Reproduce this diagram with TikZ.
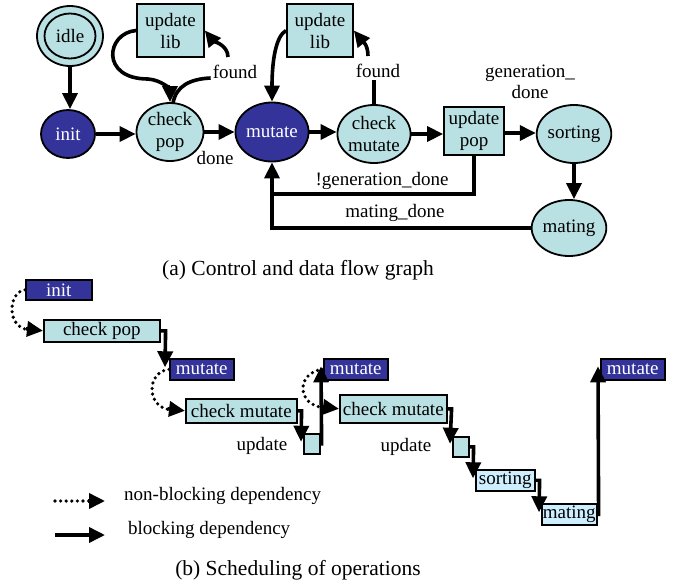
\documentclass[tikz,border=0pt]{standalone}
\usepackage{fontspec}
\setmainfont{Liberation Serif}
\usetikzlibrary{shapes.geometric,arrows.meta,calc}
\definecolor{lc}{HTML}{B9E0E3}
\definecolor{dk}{HTML}{333399}
\definecolor{sk}{HTML}{CCEEFF}
\begin{document}
\begin{tikzpicture}[x=1pt,y=-1pt,
 lbl/.style={font=\fontsize{19}{22}\selectfont},
 captxt/.style={font=\fontsize{21.5}{24}\selectfont},
 tag/.style={lbl,inner sep=2pt},
 ell/.style={ellipse,draw,line width=1.8pt,inner sep=0pt,fill=lc,lbl,align=center},
 dkell/.style={ell,fill=dk,text=white},
 rbox/.style={rectangle,draw,line width=1.8pt,fill=lc,inner sep=0pt,lbl,align=center},
 sbox/.style={rectangle,draw,line width=1.6pt,fill=lc,inner sep=0pt,lbl,anchor=north west},
 dbox/.style={sbox,fill=dk,text=white},
 kbox/.style={sbox,fill=sk},
 con/.style={line width=3.6pt},
 arr/.style={con,-{Triangle[length=16pt,width=15pt]}},
 dotln/.style={line width=3.6pt,dash pattern=on 0pt off 5.6pt,line cap=round},
]
\useasboundingbox (0,0) rectangle (681,584);

% ---------- (a) ----------
\node[ell,minimum width=66pt,minimum height=60pt] (idle) at (70,36) {};
\node[ell,minimum width=51pt,minimum height=45pt] (idlein) at (70,36) {idle};
\node[dkell,minimum width=54pt,minimum height=48pt] (init) at (68,134) {init};
\node[ell,minimum width=67pt,minimum height=58pt] (cp) at (170,132) {check\\pop};
\node[dkell,minimum width=68pt,minimum height=59pt] (mut) at (272,132) {mutate};
\node[rbox,minimum width=67pt,minimum height=53pt] (ul1) at (170.5,30.5) {update\\lib};
\node[rbox,minimum width=66pt,minimum height=53pt] (ul2) at (320,30.5) {update\\lib};
\node[ell,minimum width=66pt,minimum height=58pt] (cm) at (374,134) {check\\mutate};
\node[rbox,minimum width=60pt,minimum height=48pt] (up) at (474,131) {update\\pop};
\node[ell,minimum width=64pt,minimum height=58pt] (sort) at (574,134) {sorting};
\node[ell,minimum width=62pt,minimum height=56pt] (mat) at (569,228) {mating};

\node[tag] (f1) at (235,72) {found};
\node[tag] (f2) at (378,71) {found};
\node[tag,align=center,font=\fontsize{19}{21}\selectfont] (gd) at (530,82) {generation\_\\done};
\node[tag] (dn) at (215,158) {done};
\node[tag] (ngd) at (382,181) {!generation\_done};
\node[tag] (md) at (395,213) {mating\_done};

\draw[arr] (idle.south) -- (idle.south |- init.north);
\draw[arr] (init.east) -- (init.east -| cp.west);
\draw[arr] (cp.east) -- (cp.east -| mut.west);
\draw[arr] (mut.east) -- (mut.east -| cm.west);
\draw[arr] (cm.east) -- (cm.east -| up.west);
\coordinate (upe) at ($(up.east)+(0,2)$);
\draw[arr] (upe) -- (upe -| sort.west);
\draw[arr] (sort.south) -- (sort.south |- mat.north);

\draw[arr] (ul1.west) .. controls (106,33) and (100,79) .. (148,79) .. controls (162,80) and (170,90) .. (cp.north);
\draw[con] ($(cp.north)+(3,1)$) .. controls (176,86) and (190,79) .. ($(f1.west)+(0,6)$);
\draw[arr] ($(f1.north)+(-7,-6)$) .. controls +(0,-12) and +(8,10) .. (ul1.east);

\draw[arr] (ul2.west) .. controls (276,36) and (272,60) .. (mut.north);
\draw[con] (cm.north) -- (cm.north |- f2.south);
\draw[arr] ($(f2.north)+(-10,-6)$) .. controls +(0,-12) and +(8,10) .. (ul2.east);

\coordinate (jn) at ($(mut.south)+(0,31)$);
\draw[con] (mat.west) -| (jn);
\draw[arr] (up.south) -- ++(0,38) -| (mut.south);

\node[captxt] (capa) at (298,270) {(a) Control and data flow graph};

% ---------- (b) ----------
\node[dbox,minimum width=66pt,minimum height=20pt] (binit) at (25,279) {init};
\node[sbox,minimum width=116pt,minimum height=22pt] (bcp) at (43,319) {check pop};
\node[dbox,minimum width=64pt,minimum height=21pt] (bm1) at (169,358) {mutate};
\node[sbox,minimum width=111pt,minimum height=24pt] (bcm1) at (185,398) {check mutate};
\node[sbox,minimum width=16pt,minimum height=20pt] (bu1) at (303,433) {};
\node[dbox,minimum width=64pt,minimum height=21pt] (bm2) at (323,358) {mutate};
\node[sbox,minimum width=107pt,minimum height=28pt] (bcm2) at (339,394) {check mutate};
\node[sbox,minimum width=16pt,minimum height=20pt] (bu2) at (452,436) {};
\node[kbox,minimum width=59pt,minimum height=21pt] (bsort) at (475,469) {sorting};
\node[kbox,minimum width=55pt,minimum height=21pt] (bmat) at (541,503) {mating};
\node[dbox,minimum width=64pt,minimum height=21pt] (bm3) at (600,358) {mutate};

\node[tag] (upl1) at (262,446) {update};
\node[tag] (upl2) at (406,447) {update};

% non-blocking (dotted) dependencies
\draw[dotln] (binit.west) .. controls (8,292) and (6,328) .. ($(bcp.west)+(-14,-1)$);
\draw[arr] ($(bcp.west)+(-17,-2)$) -- (bcp.west);
\draw[dotln] (bm1.west) .. controls (146,372) and (146,408) .. ($(bcm1.west)+(-14,-1)$);
\draw[arr] ($(bcm1.west)+(-17,-2)$) -- (bcm1.west);
\draw[dotln] (bm2.west) .. controls (296,372) and (296,406) .. ($(bcm2.west)+(-14,-1)$);
\draw[arr] ($(bcm2.west)+(-17,-2)$) -- (bcm2.west);

% blocking dependencies
\draw[arr] (bcp.east) -- ++(5,0) -- ($(bm1.west)+(-4,-2)$);
\draw[arr] (bcm1.east) -- ++(4,0) -- ($(bu1.west)+(-2,-2)$);
\draw[arr] (bu1.east) -- ++(1,0) -- ($(bm2.west)+(-2,-3)$);
\draw[arr] (bcm2.east) -- ++(4,0) -- ($(bu2.west)+(-2,-3)$);
\draw[arr] (bu2.east) -- ++(4,0) -- ($(bsort.west)+(-2,-2)$);
\draw[arr] (bsort.east) -- ++(4,0) -- ($(bmat.west)+(-2,-2)$);
\draw[arr] (bmat.east) -- ++(1,0) -- ($(bm3.west)+(-2,-3)$);

% legend
\coordinate (l1a) at (55,501);
\coordinate (l1m) at (89,501);
\coordinate (l1b) at (105,501);
\coordinate (l2a) at (55,535);
\coordinate (l2b) at (105,535);
\draw[dotln] (l1a) -- (l1m);
\draw[arr] ($(l1b)+(-17,0)$) -- (l1b);
\draw[arr] (l2a) -- (l2b);
\node[tag,anchor=west] (lg1) at (122,496) {non-blocking dependency};
\node[tag,anchor=west] (lg2) at (126,530) {blocking dependency};

\node[captxt] (capb) at (298,570) {(b) Scheduling of operations};
\end{tikzpicture}
\end{document}
